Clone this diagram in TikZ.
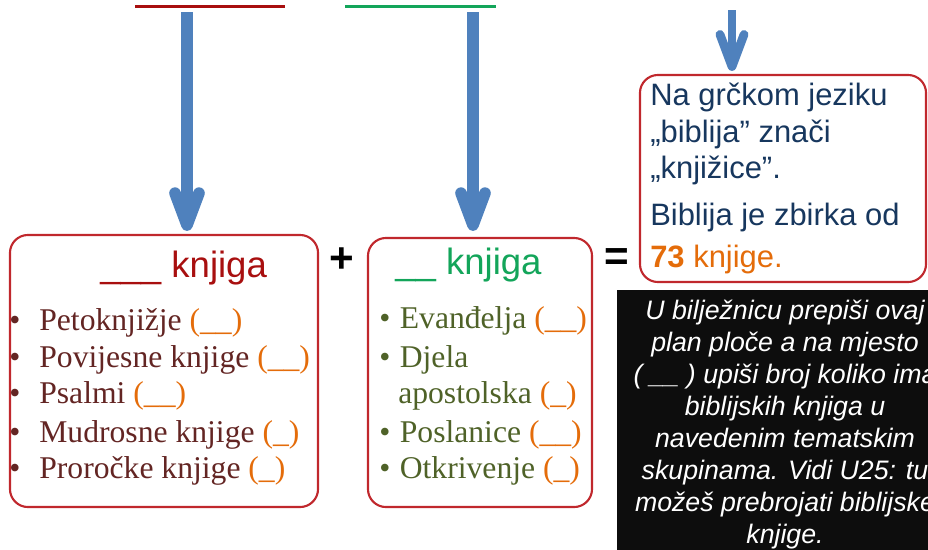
\documentclass[tikz,border=0pt]{standalone}
\usepackage{fontspec}
\setmainfont{Liberation Sans}
\newfontfamily\listfont{Liberation Serif}
\usetikzlibrary{arrows.meta, positioning, calc}

\definecolor{arrowblue}{HTML}{4F81BD}
\definecolor{boxred}{HTML}{C0282D}
\definecolor{headred}{HTML}{A80F0F}
\definecolor{headgreen}{HTML}{13A55A}
\definecolor{otlist}{HTML}{632523}
\definecolor{ntlist}{HTML}{4F6228}
\definecolor{infoblue}{HTML}{17375E}
\definecolor{blankorange}{HTML}{E46C0A}

\tikzset{
  bookbox/.style={draw=boxred, line width=1.5pt, rounded corners=0.45cm, inner sep=0pt},
  downarrow/.style={arrowblue, line width=0.29cm, -{Straight Barb[round, length=0.8cm, width=0.6cm]}},
  listitem/.style={anchor=base west, inner sep=0pt, font=\listfont\fontsize{22.5}{26}\selectfont},
  head/.style={anchor=base west, inner sep=0pt, font=\fontsize{26}{30}\selectfont},
  sign/.style={inner sep=0pt, font=\bfseries\fontsize{30}{34}\selectfont},
  infoline/.style={anchor=base west, inner sep=0pt, text=infoblue, font=\fontsize{22}{26}\selectfont},
}
\newcommand{\blank}[1]{\textcolor{blankorange}{(#1)}}
\newcommand{\otbul}{\textbullet\hspace{0.6em}}
\newcommand{\ntbul}{\textbullet\hspace{0.3em}}

\begin{document}
\begin{tikzpicture}[x=0.025cm, y=-0.025cm]
\useasboundingbox (0,0) rectangle (928,549);

% blanks of the top line
\draw[headred, line width=0.075cm] (135,6) -- (285,6);
\draw[headgreen, line width=0.075cm] (345,6) -- (496,6);

% boxes
\node[bookbox, minimum width=7.7cm, minimum height=6.8cm] (otbox) at (164,371) {};
\node[bookbox, minimum width=5.6cm, minimum height=6.725cm] (ntbox) at (480,372.5) {};
\node[bookbox, minimum width=7.15cm, minimum height=5.175cm] (infobox) at (783,178.5) {};
\fill[black!95] (617,290) rectangle (940,560);

% arrows
\coordinate (s1) at (187,12);
\coordinate (s2) at (473,12);
\coordinate (s3) at (732,10);
\draw[downarrow, shorten >=0.075cm] (s1) -- (s1 |- otbox.north);
\draw[downarrow, shorten >=0.15cm] (s2) -- (s2 |- ntbox.north);
\draw[downarrow, line width=0.22cm, shorten >=0.075cm] (s3) -- (s3 |- infobox.north);

% headers
\node[head, text=headred] (othead) at (100,277) {\_\_\_ knjiga};
\node[head, text=headgreen] (nthead) at (395,274) {\_\_ knjiga};
\node[sign] (plus) at (342,260) {+};
\node[sign] (eq) at (617,260) {=};

% Old Testament
\node[listitem, text=otlist] (ot1) at (9,330) {\otbul Petoknjižje \blank{\_\_}};
\node[listitem, text=otlist] (ot2) at (9,367) {\otbul Povijesne knjige \blank{\_\_}};
\node[listitem, text=otlist] (ot3) at (9,403) {\otbul Psalmi \blank{\_\_}};
\node[listitem, text=otlist] (ot4) at (9,442) {\otbul Mudrosne knjige \blank{\_}};
\node[listitem, text=otlist] (ot5) at (9,478) {\otbul Proročke knjige \blank{\_}};

% New Testament
\node[listitem, text=ntlist] (nt1) at (379,328) {\ntbul Evanđelja \blank{\_\_}};
\node[listitem, text=ntlist] (nt2) at (379,367) {\ntbul Djela};
\node[listitem, text=ntlist] (nt2b) at (398,403) {apostolska \blank{\_}};
\node[listitem, text=ntlist] (nt3) at (379,442) {\ntbul Poslanice \blank{\_\_}};
\node[listitem, text=ntlist] (nt4) at (379,478) {\ntbul Otkrivenje \blank{\_}};

% Bible
\node[infoline] (info1) at (650,105) {Na grčkom jeziku};
\node[infoline] (info2) at (650,142) {„biblija” znači};
\node[infoline] (info3) at (650,178) {„knjižice”.};
\node[infoline] (info4) at (650,225) {Biblija je zbirka od};
\node[infoline, text=blankorange] (info5) at (650,267) {\textbf{73} knjige.};

% instruction
\node[anchor=north, align=center, text=white, inner sep=0pt, font=\itshape\fontsize{19}{22.7}\selectfont] (note) at (785,300)
  {U bilježnicu prepiši ovaj\\ plan ploče a na mjesto\\ ( \_\_ ) upiši broj koliko ima\\ biblijskih knjiga u\\ navedenim tematskim\\ skupinama. Vidi U25: tu\\ možeš prebrojati biblijske\\ knjige.};
\end{tikzpicture}
\end{document}
